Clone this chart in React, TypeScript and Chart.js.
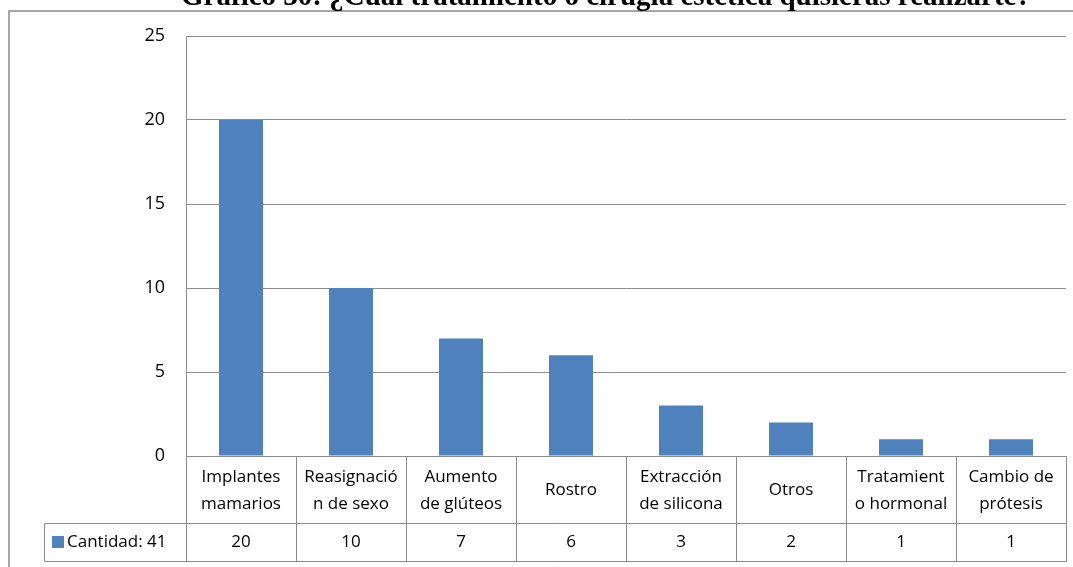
import React, { useEffect, useRef } from "react";
import { Chart, registerables } from "chart.js";

Chart.register(...registerables);

const title = "Gráfico 30: ¿Cuál tratamiento o cirugía estética quisieras realizarte?";
const categoryLines: string[][] = [
  ["Implantes", "mamarios"],
  ["Reasignació", "n de sexo"],
  ["Aumento", "de glúteos"],
  ["Rostro"],
  ["Extracción", "de silicona"],
  ["Otros"],
  ["Tratamient", "o hormonal"],
  ["Cambio de", "prótesis"],
];
const categories = categoryLines.map((l) => l.join(" "));
const values = [20, 10, 7, 6, 3, 2, 1, 1];
const seriesName = "Cantidad: 41";
const yMax = 25;
const yStep = 5;

const BAR = "#4F81BD";
const GRID = "#8c8c8c";
const FONT = "'Open Sans', sans-serif";

const tablePlugin = {
  id: "tablePlugin",
  afterDraw(chart: any) {
    const ctx = chart.ctx as CanvasRenderingContext2D;
    const xs = chart.scales.x;
    const area = chart.chartArea;
    const n = categories.length;
    const top = area.bottom;
    const mid = top + 67;
    const bot = mid + 38;
    const legendLeft = 44;
    const edges: number[] = [];
    for (let i = 0; i <= n; i++) edges.push(Math.round(xs.getPixelForValue(i - 0.5)) + 0.5);

    ctx.save();
    // frame
    ctx.strokeStyle = "#a6a6a6";
    ctx.lineWidth = 2;
    ctx.beginPath();
    ctx.moveTo(9, 567);
    ctx.lineTo(9, 11);
    ctx.lineTo(1073, 11);
    ctx.stroke();

    // title
    ctx.fillStyle = "#000";
    ctx.font = "bold 29px 'Liberation Serif', serif";
    ctx.textAlign = "center";
    ctx.textBaseline = "alphabetic";
    ctx.fillText(title, 606, 5);

    // table lines
    ctx.strokeStyle = GRID;
    ctx.lineWidth = 1;
    ctx.beginPath();
    ctx.moveTo(edges[0], top + 0.5);
    ctx.lineTo(edges[n], top + 0.5);
    ctx.moveTo(legendLeft + 0.5, mid + 0.5);
    ctx.lineTo(edges[n], mid + 0.5);
    ctx.moveTo(legendLeft + 0.5, bot + 0.5);
    ctx.lineTo(edges[n], bot + 0.5);
    ctx.moveTo(legendLeft + 0.5, mid + 0.5);
    ctx.lineTo(legendLeft + 0.5, bot + 0.5);
    for (const e of edges) {
      ctx.moveTo(e, top);
      ctx.lineTo(e, bot + 1);
    }
    ctx.stroke();

    // category texts
    ctx.fillStyle = "#000";
    ctx.font = `17px ${FONT}`;
    ctx.textAlign = "center";
    ctx.textBaseline = "middle";
    const lh = 27;
    categoryLines.forEach((lines, i) => {
      const cx = xs.getPixelForValue(i);
      const cy = (top + mid) / 2 + 1;
      const start = cy - ((lines.length - 1) * lh) / 2;
      lines.forEach((t, j) => ctx.fillText(t, cx, start + j * lh));
      ctx.fillText(String(values[i]), cx, (mid + bot) / 2);
    });

    // legend cell
    const ly = (mid + bot) / 2;
    ctx.fillStyle = BAR;
    ctx.fillRect(52, ly - 6, 12, 12);
    ctx.fillStyle = "#000";
    ctx.textAlign = "left";
    ctx.fillText(seriesName, 67, ly);
    ctx.restore();
  },
};

export default function App() {
  const ref = useRef<HTMLCanvasElement | null>(null);
  useEffect(() => {
    if (!ref.current) return;
    const chart = new Chart(ref.current, {
      type: "bar",
      data: {
        labels: categories,
        datasets: [
          {
            label: seriesName,
            data: values,
            backgroundColor: BAR,
            barPercentage: 0.4,
            categoryPercentage: 1,
          },
        ],
      },
      options: {
        responsive: false,
        animation: false,
        layout: { padding: { left: 0, top: 36, right: 7, bottom: 111 } },
        plugins: { legend: { display: false }, tooltip: { enabled: false }, title: { display: false } },
        scales: {
          x: { display: false, offset: true },
          y: {
            min: 0,
            max: yMax,
            ticks: { stepSize: yStep, padding: 21, color: "#000", font: { family: FONT, size: 18 } },
            grid: { color: GRID, drawTicks: false, lineWidth: 1 },
            border: { color: GRID, width: 1 },
            afterFit: (s: any) => {
              s.width = 186;
            },
          },
        },
      },
      plugins: [tablePlugin],
    });
    return () => chart.destroy();
  }, []);
  return (
    <div style={{ position: "absolute", left: 0, top: 0, width: 1073, height: 567, background: "#fff" }}>
      <canvas ref={ref} width={1073} height={567} style={{ display: "block" }} />
    </div>
  );
}
